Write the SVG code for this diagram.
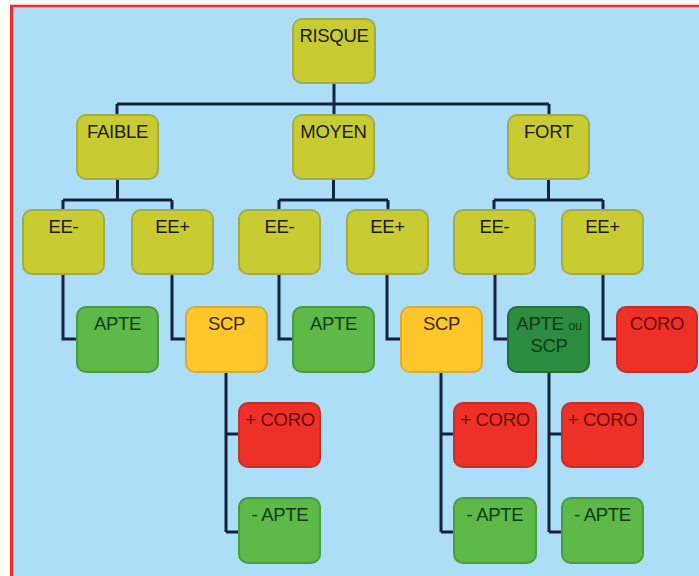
<svg xmlns="http://www.w3.org/2000/svg" width="699" height="576" viewBox="0 0 699 576">
  <defs>
    <style>
      .box { stroke-width: 2; }
      .lvl { fill: #C9CB33; stroke: #A3AA4A; }
      .ok { fill: #5DB948; stroke: #4A9A42; }
      .okd { fill: #2C8C3F; stroke: #237034; }
      .scp { fill: #FFC72B; stroke: #D8AA3A; }
      .coro { fill: #EE3127; stroke: #C0302C; }
      .lbl { font-family: "Liberation Sans", Arial, sans-serif; font-size: 18.5px; text-anchor: middle; fill: #1A1A10; letter-spacing: -0.3px; }
      .lbl-ok { fill: #123A12; }
      .lbl-okd { fill: #0E3A18; }
      .lbl-scp { fill: #3A2A05; }
      .lbl-coro { fill: #6A0A0A; }
      .wire { fill: none; stroke: #15223F; stroke-width: 3; }
    </style>
  </defs>

  <!-- frame -->
  <rect x="0" y="0" width="699" height="576" fill="#FFFFFF"/>
  <rect x="12" y="7" width="687" height="569" fill="#ADDEF8"/>
  <line x1="11.5" y1="5" x2="11.5" y2="576" stroke="#EE2A2A" stroke-width="3"/>
  <line x1="10" y1="6" x2="699" y2="6" stroke="#EE2A2A" stroke-width="2.5"/>

  <!-- connectors -->
  <g id="connectors" class="wire">
    <path d="M334 83 V104 M117 104 H549 M117 104 V115 M334 104 V115 M549 104 V115"/>
    <path d="M117.5 179 V200 M63 200 H172 M63 200 V210 M172 200 V210"/>
    <path d="M333.5 179 V200 M279 200 H388 M279 200 V210 M388 200 V210"/>
    <path d="M548.5 179 V200 M494 200 H603 M494 200 V210 M603 200 V210"/>
    <path d="M63 274 V339 H77 M172 274 V339 H186 M279 274 V339 H293 M387 274 V339 H401 M495 274 V339 H508 M603 274 V339 H617"/>
    <path d="M226 372 V532 M226 434 H239 M226 532 H239"/>
    <path d="M441 372 V532 M441 434 H454 M441 532 H454"/>
    <path d="M549 372 V532 M549 434 H562 M549 532 H562"/>
  </g>

  <!-- level 0 -->
  <g id="risque">
    <rect class="box lvl" x="293" y="19" width="82" height="64" rx="9"/>
    <text class="lbl" x="334" y="42">RISQUE</text>
  </g>

  <!-- level 1 -->
  <g id="faible">
    <rect class="box lvl" x="77" y="115" width="81" height="64" rx="9"/>
    <text class="lbl" x="117.5" y="138">FAIBLE</text>
  </g>
  <g id="moyen">
    <rect class="box lvl" x="293" y="115" width="81" height="64" rx="9"/>
    <text class="lbl" x="333.5" y="138">MOYEN</text>
  </g>
  <g id="fort">
    <rect class="box lvl" x="508" y="115" width="81" height="64" rx="9"/>
    <text class="lbl" x="548.5" y="138">FORT</text>
  </g>

  <!-- level 2 -->
  <g id="faible-ee-moins">
    <rect class="box lvl" x="23" y="210" width="81" height="64" rx="9"/>
    <text class="lbl" x="63.5" y="233">EE-</text>
  </g>
  <g id="faible-ee-plus">
    <rect class="box lvl" x="132" y="210" width="81" height="64" rx="9"/>
    <text class="lbl" x="172.5" y="233">EE+</text>
  </g>
  <g id="moyen-ee-moins">
    <rect class="box lvl" x="239" y="210" width="81" height="64" rx="9"/>
    <text class="lbl" x="279.5" y="233">EE-</text>
  </g>
  <g id="moyen-ee-plus">
    <rect class="box lvl" x="347" y="210" width="81" height="64" rx="9"/>
    <text class="lbl" x="387.5" y="233">EE+</text>
  </g>
  <g id="fort-ee-moins">
    <rect class="box lvl" x="454" y="210" width="81" height="64" rx="9"/>
    <text class="lbl" x="494.5" y="233">EE-</text>
  </g>
  <g id="fort-ee-plus">
    <rect class="box lvl" x="562" y="210" width="81" height="64" rx="9"/>
    <text class="lbl" x="602.5" y="233">EE+</text>
  </g>

  <!-- level 3 -->
  <g id="faible-apte">
    <rect class="box ok" x="77" y="307" width="81" height="65" rx="9"/>
    <text class="lbl lbl-ok" x="117.5" y="330">APTE</text>
  </g>
  <g id="faible-scp">
    <rect class="box scp" x="186" y="307" width="81" height="65" rx="9"/>
    <text class="lbl lbl-scp" x="226.5" y="330">SCP</text>
  </g>
  <g id="moyen-apte">
    <rect class="box ok" x="293" y="307" width="81" height="65" rx="9"/>
    <text class="lbl lbl-ok" x="333.5" y="330">APTE</text>
  </g>
  <g id="moyen-scp">
    <rect class="box scp" x="401" y="307" width="81" height="65" rx="9"/>
    <text class="lbl lbl-scp" x="441.5" y="330">SCP</text>
  </g>
  <g id="fort-apte-ou-scp">
    <rect class="box okd" x="508" y="307" width="81" height="65" rx="9"/>
    <text class="lbl lbl-okd" x="549" y="330">APTE <tspan font-size="12.5px">ou</tspan></text>
    <text class="lbl lbl-okd" x="549" y="352">SCP</text>
  </g>
  <g id="fort-coro">
    <rect class="box coro" x="617" y="307" width="80" height="65" rx="9"/>
    <text class="lbl lbl-coro" x="657" y="330">CORO</text>
  </g>

  <!-- level 4 -->
  <g id="faible-scp-coro">
    <rect class="box coro" x="239" y="403" width="81" height="64" rx="9"/>
    <text class="lbl lbl-coro" x="280" y="426">+ CORO</text>
  </g>
  <g id="faible-scp-apte">
    <rect class="box ok" x="239" y="498" width="81" height="65" rx="9"/>
    <text class="lbl lbl-ok" x="280" y="521">- APTE</text>
  </g>
  <g id="moyen-scp-coro">
    <rect class="box coro" x="454" y="403" width="82" height="64" rx="9"/>
    <text class="lbl lbl-coro" x="495" y="426">+ CORO</text>
  </g>
  <g id="moyen-scp-apte">
    <rect class="box ok" x="454" y="498" width="82" height="65" rx="9"/>
    <text class="lbl lbl-ok" x="495" y="521">- APTE</text>
  </g>
  <g id="fort-scp-coro">
    <rect class="box coro" x="562" y="403" width="81" height="64" rx="9"/>
    <text class="lbl lbl-coro" x="602.5" y="426">+ CORO</text>
  </g>
  <g id="fort-scp-apte">
    <rect class="box ok" x="562" y="498" width="81" height="65" rx="9"/>
    <text class="lbl lbl-ok" x="602.5" y="521">- APTE</text>
  </g>
</svg>
